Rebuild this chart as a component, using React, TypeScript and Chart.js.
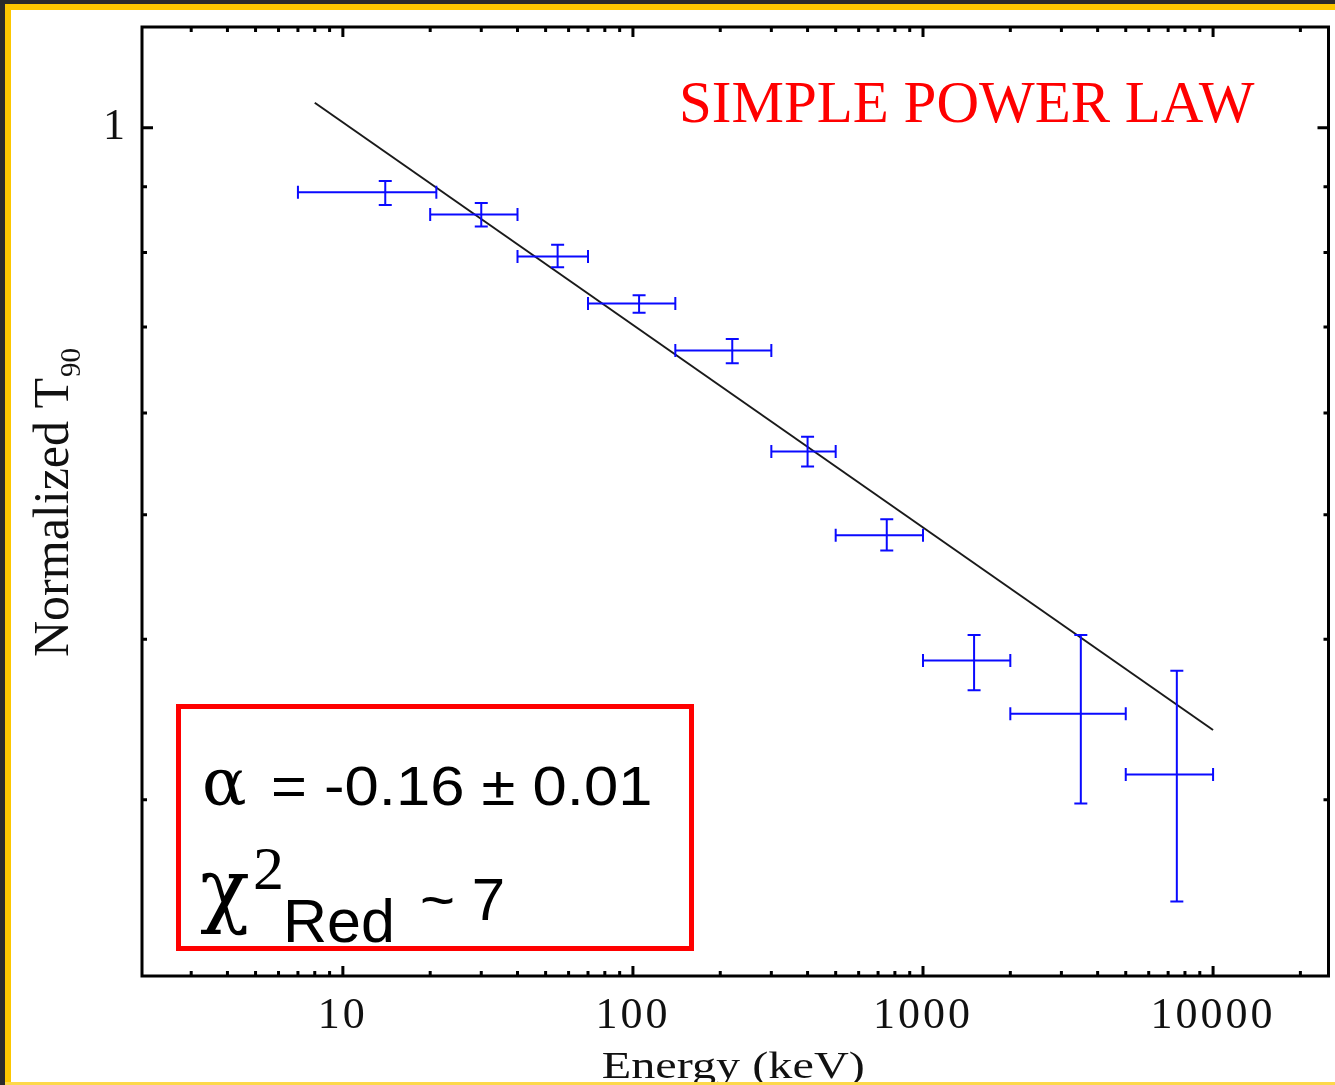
import React, { useEffect, useRef } from 'react';
import { Chart, registerables } from 'chart.js';

Chart.register(...registerables);

// ---- data ----
const energy = [14, 30, 55, 105, 220, 400, 750, 1500, 3500, 7500];
const energyLo = [7, 20, 40, 70, 140, 300, 500, 1000, 2000, 5000];
const energyHi = [21, 40, 70, 140, 300, 500, 1000, 2000, 5000, 10000];
const t90 = [0.891, 0.856, 0.794, 0.73, 0.671, 0.56, 0.482, 0.385, 0.35, 0.314];
const t90Lo = [0.871, 0.838, 0.779, 0.718, 0.656, 0.545, 0.469, 0.365, 0.298, 0.25];
const t90Hi = [0.909, 0.874, 0.811, 0.741, 0.685, 0.575, 0.496, 0.403, 0.403, 0.378];

const fitEnergy = [8, 10000];
const fitT90 = [1.046, 0.34];

const xTickLabels = [10, 100, 1000, 10000];
const xMinorTicks = [
  3, 4, 5, 6, 7, 8, 9,
  20, 30, 40, 50, 60, 70, 80, 90,
  200, 300, 400, 500, 600, 700, 800, 900,
  2000, 3000, 4000, 5000, 6000, 7000, 8000, 9000,
  20000,
];
const yTickLabels = [1];
const yMinorTicks = [0.3, 0.4, 0.5, 0.6, 0.7, 0.8, 0.9];

const xTitle = 'Energy (keV)';
const yTitle = 'Normalized T';
const yTitleSub = '90';
const modelLabel = 'SIMPLE POWER LAW';

const framePlugin = {
  id: 'frameAndAnnotations',
  beforeDraw(chart: any) {
    const ctx = chart.ctx as any;
    ctx.letterSpacing = '3px';
  },
  afterDatasetsDraw(chart: any) {
    const ctx = chart.ctx as CanvasRenderingContext2D;
    const xs = chart.scales.x;
    const ys = chart.scales.y;
    const cap = 6.5;
    ctx.save();
    ctx.strokeStyle = '#0a0aff';
    ctx.lineWidth = 2;
    ctx.lineCap = 'butt';
    for (let i = 0; i < energy.length; i++) {
      const xc = xs.getPixelForValue(energy[i]);
      const x0 = xs.getPixelForValue(energyLo[i]);
      const x1 = xs.getPixelForValue(energyHi[i]);
      const yc = ys.getPixelForValue(t90[i]);
      const y0 = ys.getPixelForValue(t90Lo[i]);
      const y1 = ys.getPixelForValue(t90Hi[i]);
      ctx.beginPath();
      ctx.moveTo(x0, yc); ctx.lineTo(x1, yc);
      ctx.moveTo(x0, yc - cap); ctx.lineTo(x0, yc + cap);
      ctx.moveTo(x1, yc - cap); ctx.lineTo(x1, yc + cap);
      ctx.moveTo(xc, y0); ctx.lineTo(xc, y1);
      ctx.moveTo(xc - cap, y0); ctx.lineTo(xc + cap, y0);
      ctx.moveTo(xc - cap, y1); ctx.lineTo(xc + cap, y1);
      ctx.stroke();
    }
    ctx.restore();
  },
  afterDraw(chart: any) {
    const ctx = chart.ctx as any;
    ctx.letterSpacing = '0px';
    const xs = chart.scales.x;
    const ys = chart.scales.y;
    const a = chart.chartArea;
    ctx.save();
    // frame
    ctx.strokeStyle = '#000';
    ctx.lineWidth = 3;
    ctx.strokeRect(a.left, a.top, a.right - a.left, a.bottom - a.top);
    // inward ticks
    const drawX = (v: number, len: number) => {
      const p = xs.getPixelForValue(v);
      ctx.beginPath();
      ctx.moveTo(p, a.bottom); ctx.lineTo(p, a.bottom - len);
      ctx.moveTo(p, a.top); ctx.lineTo(p, a.top + len);
      ctx.stroke();
    };
    const drawY = (v: number, len: number) => {
      const p = ys.getPixelForValue(v);
      ctx.beginPath();
      ctx.moveTo(a.left, p); ctx.lineTo(a.left + len, p);
      ctx.moveTo(a.right, p); ctx.lineTo(a.right - len, p);
      ctx.stroke();
    };
    ctx.lineWidth = 3;
    xMinorTicks.forEach((v) => drawX(v, 5));
    xTickLabels.forEach((v) => drawX(v, 10));
    yMinorTicks.forEach((v) => drawY(v, 5));
    yTickLabels.forEach((v) => drawY(v, 11));

    // x title
    ctx.fillStyle = '#111';
    ctx.save();
    ctx.translate((a.left + a.right) / 2 - 2, 1078);
    ctx.scale(1.27, 1);
    ctx.font = '38px "Liberation Serif"';
    ctx.textAlign = 'center';
    ctx.textBaseline = 'alphabetic';
    ctx.fillText(xTitle, 0, 0);
    ctx.restore();

    // y title with subscript
    ctx.save();
    ctx.translate(68, 657);
    ctx.rotate(-Math.PI / 2);
    ctx.font = '50px "Liberation Serif"';
    ctx.textAlign = 'left';
    ctx.textBaseline = 'alphabetic';
    ctx.fillText(yTitle, 0, 0);
    const w = ctx.measureText(yTitle).width;
    ctx.font = '29px "Liberation Serif"';
    ctx.fillText(yTitleSub, w + 1, 12);
    ctx.restore();

    // model label
    ctx.fillStyle = '#ff0000';
    ctx.font = '59px "Liberation Serif"';
    ctx.textAlign = 'left';
    ctx.fillText(modelLabel, 679, 122);

    // red box
    ctx.fillStyle = '#ffffff';
    ctx.fillRect(178.5, 706.5, 513, 242);
    ctx.strokeStyle = '#ff0000';
    ctx.lineWidth = 5;
    ctx.strokeRect(178.5, 706.5, 513, 242);

    ctx.fillStyle = '#000';
    ctx.textAlign = 'left';
    ctx.font = '66px "DejaVu Serif"';
    ctx.fillText('α', 202, 805);
    ctx.save();
    ctx.translate(271, 805);
    ctx.scale(1.1, 1);
    ctx.font = '56px "Liberation Sans"';
    ctx.fillText('= -0.16 ± 0.01', 0, 0);
    ctx.restore();

    ctx.font = '82px "DejaVu Serif"';
    ctx.fillText('χ', 200, 917);
    ctx.font = '62px "Liberation Serif"';
    ctx.fillText('2', 253, 889);
    ctx.font = '61px "Liberation Sans"';
    ctx.fillText('Red', 283, 942);
    ctx.font = '60px "Liberation Sans"';
    ctx.fillText('~ 7', 420, 920);
    ctx.restore();
  },
};

export default function App() {
  const ref = useRef<HTMLCanvasElement | null>(null);
  useEffect(() => {
    if (!ref.current) return;
    const chart = new Chart(ref.current, {
      type: 'scatter',
      data: {
        datasets: [
          {
            type: 'line',
            label: 'Power-law fit',
            data: fitEnergy.map((x, i) => ({ x, y: fitT90[i] })),
            borderColor: '#1a1a1a',
            borderWidth: 2,
            pointRadius: 0,
            showLine: true,
            fill: false,
            tension: 0,
          } as any,
          {
            label: 'Normalized T90',
            data: energy.map((x, i) => ({ x, y: t90[i] })),
            pointRadius: 0,
            borderColor: '#0a0aff',
            backgroundColor: '#0a0aff',
          },
        ],
      },
      options: {
        responsive: false,
        animation: false,
        events: [],
        layout: { padding: { left: 0, top: 27, right: 6.5, bottom: 0 } },
        plugins: { legend: { display: false }, tooltip: { enabled: false } },
        scales: {
          x: {
            type: 'logarithmic',
            position: 'bottom',
            min: 2.03,
            max: 25000,
            bounds: 'data',
            grid: { display: false, drawTicks: false },
            border: { display: false },
            ticks: {
              font: { family: 'Liberation Serif', size: 44 },
              color: '#111',
              padding: 14,
              maxRotation: 0,
              minRotation: 0,
              autoSkip: false,
              callback: (v: any) => String(v),
            },
            afterBuildTicks: (s: any) => {
              s.ticks = xTickLabels.map((v) => ({ value: v }));
            },
            afterFit: (s: any) => {
              s.height = 109;
              s.paddingLeft = 0;
              s.paddingRight = 0;
            },
          },
          y: {
            type: 'logarithmic',
            position: 'left',
            min: 0.2188,
            max: 1.198,
            bounds: 'data',
            grid: { display: false, drawTicks: false },
            border: { display: false },
            ticks: {
              font: { family: 'Liberation Serif', size: 44 },
              color: '#111',
              padding: 14,
              autoSkip: false,
              callback: (v: any) => String(v),
            },
            afterBuildTicks: (s: any) => {
              s.ticks = yTickLabels.map((v) => ({ value: v }));
            },
            afterFit: (s: any) => {
              s.width = 142;
              s.paddingTop = 0;
              s.paddingBottom = 0;
            },
          },
        } as any,
      },
      plugins: [framePlugin],
    });
    return () => chart.destroy();
  }, []);

  return (
    <div style={{ position: 'absolute', left: 0, top: 0, width: 1335, height: 1085, background: '#fff', overflow: 'hidden' }}>
      <canvas ref={ref} width={1335} height={1085} style={{ position: 'absolute', left: 0, top: 0, display: 'block' }} />
      <div style={{ position: 'absolute', left: 0, top: 0, width: 1335, height: 4, background: '#2b2b2b' }} />
      <div style={{ position: 'absolute', left: 0, top: 4, width: 1335, height: 6, background: '#fdc700' }} />
      <div style={{ position: 'absolute', left: 0, top: 0, width: 5, height: 1085, background: '#2b2b2b' }} />
      <div style={{ position: 'absolute', left: 5, top: 4, width: 6, height: 1081, background: '#fdc700' }} />
      <div style={{ position: 'absolute', left: 5, top: 1082, width: 1330, height: 3, background: '#fdd84a' }} />
    </div>
  );
}
